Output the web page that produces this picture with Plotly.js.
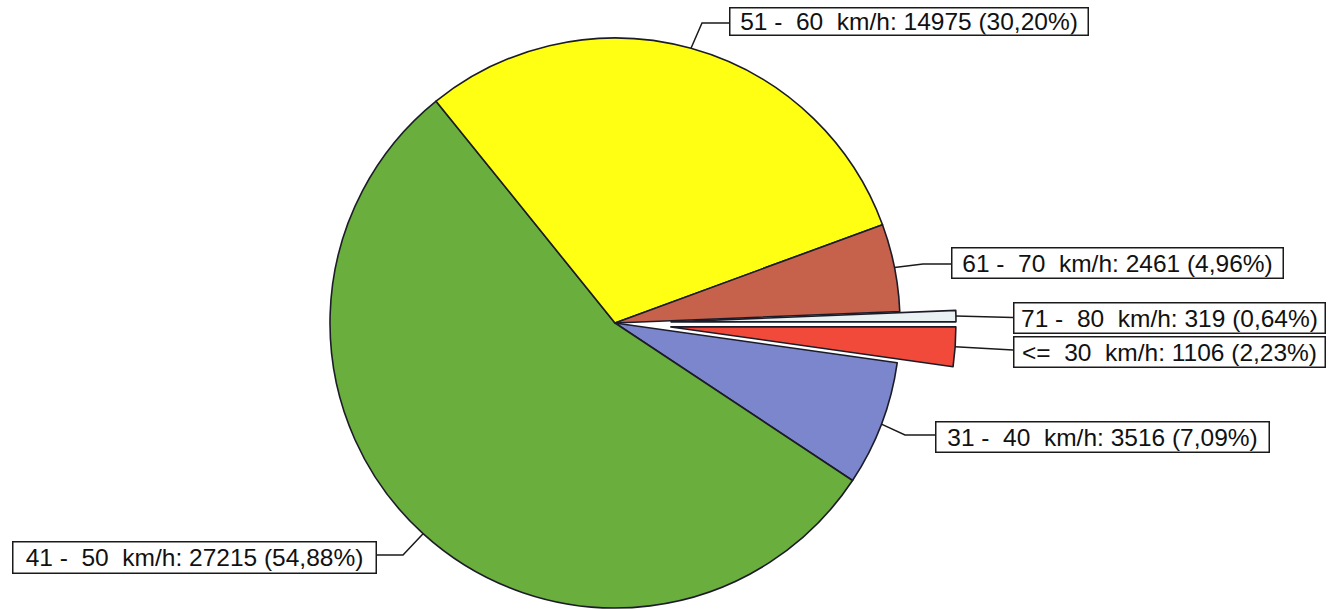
<!DOCTYPE html>
<html>
<head>
<meta charset="utf-8">
<script src="https://cdn.plot.ly/plotly-3.0.1.min.js"></script>
<style>
  html, body { margin: 0; padding: 0; background: #ffffff; overflow: hidden; }
  #chart { width: 1332px; height: 660px; }
</style>
</head>
<body>
<div id="chart"></div>
<script>
// ---------- data ----------
const categories = ['<=  30  km/h', '31 -  40  km/h', '41 -  50  km/h', '51 -  60  km/h', '61 -  70  km/h', '71 -  80  km/h'];
const counts = [1106, 3516, 27215, 14975, 2461, 319];
const percentLabels = ['2,23%', '7,09%', '54,88%', '30,20%', '4,96%', '0,64%'];
const exploded = [true, false, false, false, false, true];
const sliceColors = ['#f24a3a', '#7c86cc', '#6aae3e', '#ffff14', '#c6614c', '#e9f1f3'];

// ---------- layout geometry (pixels) ----------
const W = 1332, H = 660;           // paper slightly taller than the 609px window (bottom part unused)
const CX = 615, CY = 323, R = 285, PULL = 56;
const ROTATION = 90; // first slice starts at 3 o'clock, clockwise
// label boxes: centre, width, height, elbow point (or null), box edge point
const labelBoxes = [
  {cx: 1169, cy: 352,   w: 312, h: 31, elbow: null,       end: [1013, 350]},
  {cx: 1102, cy: 436.5, w: 334, h: 31, elbow: [905, 435], end: [935, 435]},
  {cx: 194,  cy: 557,   w: 364, h: 32, elbow: [403, 555], end: [376, 555]},
  {cx: 908.5,cy: 21,    w: 359, h: 28, elbow: [702, 23],  end: [729, 23]},
  {cx: 1117, cy: 263.5, w: 332, h: 31, elbow: [923, 264], end: [951, 264]},
  {cx: 1169, cy: 317.5, w: 312, h: 31, elbow: null,       end: [1013, 317.5]}
];

const total = counts.reduce((a, b) => a + b, 0);
const px = (x) => x / W;
const py = (y) => 1 - y / H;
const nb = (s) => s.replace(/ /g, '\u00A0');

// mid angles (degrees clockwise from 12 o'clock)
const midAngles = [];
let cum = 0;
counts.forEach(v => { midAngles.push(ROTATION + (cum + v / 2) / total * 360); cum += v; });
const rad = d => d * Math.PI / 180;

const traces = [];
// main pie: exploded slices left empty
traces.push({
  type: 'pie', values: counts, labels: categories, sort: false,
  direction: 'clockwise', rotation: ROTATION, textinfo: 'none', hoverinfo: 'label+value+percent',
  domain: {x: [px(CX - R), px(CX + R)], y: [py(CY + R), py(CY - R)]},
  marker: {
    colors: sliceColors.map((c, i) => exploded[i] ? 'rgba(0,0,0,0)' : c),
    line: {color: '#1c1c28', width: exploded.map(e => e ? 0 : 1.6)}
  },
  showlegend: false
});

// exploded slices: each drawn as its own pie, shifted outwards along its mid angle
const sliceGeom = counts.map(() => ({cx: CX, cy: CY, r: R}));
exploded.forEach((isEx, i) => {
  if (!isEx) return;
  const th = rad(midAngles[i]);
  const cx = CX + PULL * Math.sin(th);
  const cy = CY - PULL * Math.cos(th);
  const half = Math.min(R, cy, H - cy, cx, W - cx);
  sliceGeom[i] = {cx, cy, r: half};
  traces.push({
    type: 'pie', values: counts, labels: categories, sort: false,
    direction: 'clockwise', rotation: ROTATION, textinfo: 'none', hoverinfo: 'label+value+percent',
    domain: {x: [px(cx - half), px(cx + half)], y: [py(cy + half), py(cy - half)]},
    marker: {
      colors: sliceColors.map((c, j) => j === i ? c : 'rgba(0,0,0,0)'),
      line: {color: '#1c1c28', width: counts.map((_, j) => j === i ? 1.6 : 0)}
    },
    showlegend: false
  });
});

// label boxes and leader lines
const annotations = [];
const shapes = [];
categories.forEach((cat, i) => {
  const b = labelBoxes[i];
  annotations.push({
    xref: 'paper', yref: 'paper', x: px(b.cx), y: py(b.cy),
    xanchor: 'center', yanchor: 'middle', showarrow: false,
    text: nb(cat + ': ' + counts[i] + ' (' + percentLabels[i] + ')'),
    width: b.w - 2, height: b.h - 2, borderpad: 0, align: 'center',
    bordercolor: '#1a1a1a', borderwidth: 1.5, bgcolor: '#ffffff',
    font: {family: 'Liberation Sans, Arial, sans-serif', size: 24.5, color: '#111111'}
  });
  const g = sliceGeom[i];
  const th = rad(midAngles[i]);
  const sx = g.cx + g.r * Math.sin(th);
  const sy = g.cy - g.r * Math.cos(th);
  let path = 'M ' + px(sx) + ',' + py(sy);
  if (b.elbow) path += ' L ' + px(b.elbow[0]) + ',' + py(b.elbow[1]);
  path += ' L ' + px(b.end[0]) + ',' + py(b.end[1]);
  shapes.push({type: 'path', xref: 'paper', yref: 'paper', path: path,
               line: {color: '#1a1a1a', width: 1.5}});
});

const layout = {
  width: W, height: H,
  margin: {l: 0, r: 0, t: 0, b: 0, pad: 0},
  paper_bgcolor: '#ffffff', plot_bgcolor: '#ffffff',
  showlegend: false,
  annotations: annotations,
  shapes: shapes
};

Plotly.newPlot('chart', traces, layout, {displayModeBar: false, staticPlot: true});
</script>
</body>
</html>
